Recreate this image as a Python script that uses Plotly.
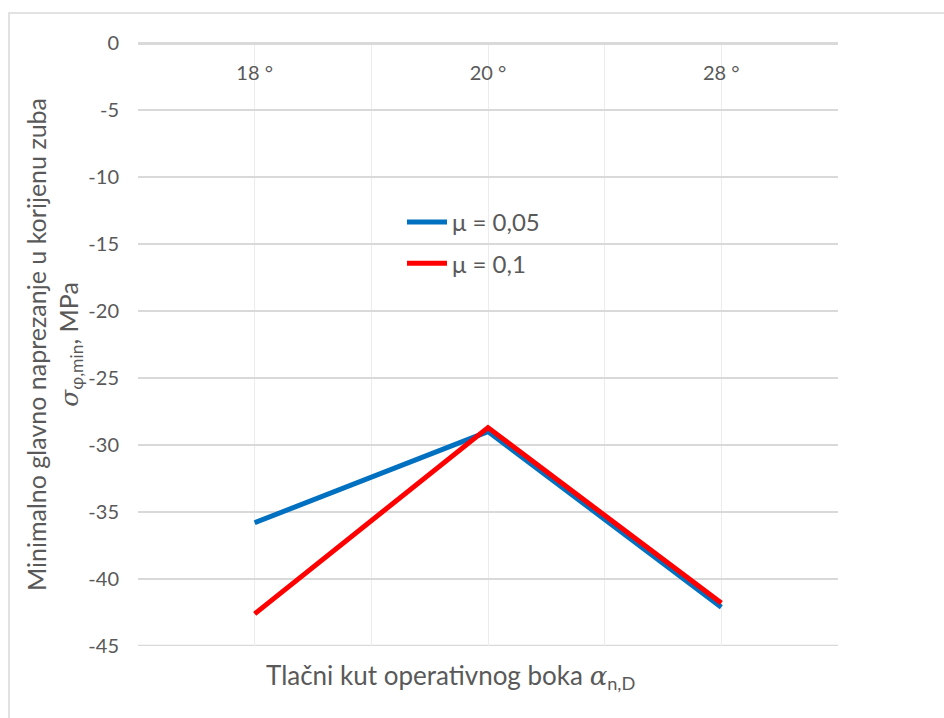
import plotly.graph_objects as go

# Pressure angle categories and the minimum principal stress at the tooth root
angles = ["18 °", "20 °", "28 °"]
sigma_mu_005 = [-35.8, -29.0, -42.1]
sigma_mu_01 = [-42.6, -28.7, -41.8]
series_names = ["μ = 0,05", "μ = 0,1"]
y_ticks = [0, -5, -10, -15, -20, -25, -30, -35, -40, -45]

FONT = "Lato, 'Open Sans', sans-serif"
TXT = "#595959"
GRID_H = "#d9d9d9"
GRID_V = "#ececec"

W, H = 944, 718
L, R, T, B = 138, 106, 43, 72
PW, PH = W - L - R, H - T - B

x_pos = list(range(len(angles)))

fig = go.Figure()
fig.add_trace(go.Scatter(
    x=x_pos, y=sigma_mu_005, mode="lines", name=series_names[0],
    legendgroup="a", line=dict(color="#0070c0", width=5),
))
fig.add_trace(go.Scatter(
    x=x_pos, y=sigma_mu_01, mode="lines", name=series_names[1],
    legendgroup="b", line=dict(color="#ff0000", width=5),
))

fig.update_layout(
    width=W, height=H,
    margin=dict(l=L, r=R, t=T, b=B, pad=0),
    paper_bgcolor="white", plot_bgcolor="white",
    font=dict(family=FONT, size=18, color=TXT),
    showlegend=True,
    legend=dict(
        x=(402 - L) / PW, y=1 - (200 - T) / PH,
        xanchor="left", yanchor="top",
        bgcolor="rgba(0,0,0,0)", font=dict(size=24, color=TXT),
        tracegroupgap=7, itemwidth=40,
    ),
    xaxis=dict(
        side="top", anchor="free", position=1 - (84 - T) / PH,
        range=[-0.5, len(angles) - 0.5],
        tickmode="array", tickvals=x_pos, ticktext=angles,
        ticks="", showline=False,
        showgrid=True, gridcolor=GRID_V, gridwidth=1,
        minor=dict(tickmode="array",
                   tickvals=[i + 0.5 for i in range(-1, len(angles))],
                   showgrid=True, gridcolor=GRID_V, gridwidth=1),
        zeroline=False,
        tickfont=dict(size=20, color=TXT),
    ),
    yaxis=dict(
        range=[-45, 0],
        tickmode="array", tickvals=y_ticks, ticktext=[str(v) for v in y_ticks],
        showgrid=True, gridcolor=GRID_H, gridwidth=1.5,
        zeroline=True, zerolinecolor=GRID_H, zerolinewidth=2.5,
        showline=False,
        ticks="outside", ticklen=14, tickcolor="rgba(0,0,0,0)",
        tickfont=dict(size=20, color=TXT),
        title=dict(
            text="Minimalno glavno naprezanje u korijenu zuba<br>"
                 "<span style='font-family:DejaVu Serif'><i>σ</i></span>"
                 "<sub>φ,min</sub>, MPa",
            font=dict(size=25, color=TXT), standoff=2,
        ),
    ),
    annotations=[dict(
        text="Tlačni kut operativnog boka "
             "<span style='font-family:DejaVu Serif'><i>α</i></span><sub>n,D</sub>",
        xref="paper", yref="paper",
        x=(450 - L) / PW, y=-(676 - (H - B)) / PH,
        xanchor="center", yanchor="middle", showarrow=False,
        font=dict(size=26, color=TXT),
    )],
    shapes=[
        dict(type="line", xref="paper", yref="y", x0=0, x1=1, y0=-45, y1=-45,
             line=dict(color=GRID_H, width=2.5), layer="below"),
        dict(type="rect", xref="paper", yref="paper",
             x0=(9 - L) / PW, x1=(W + 20 - L) / PW,
             y0=-(H + 20 - (H - B)) / PH, y1=1 + (T - 13) / PH,
             line=dict(color="#d9d9d9", width=1.5), layer="below"),
    ],
)

fig.write_html("out.html")
